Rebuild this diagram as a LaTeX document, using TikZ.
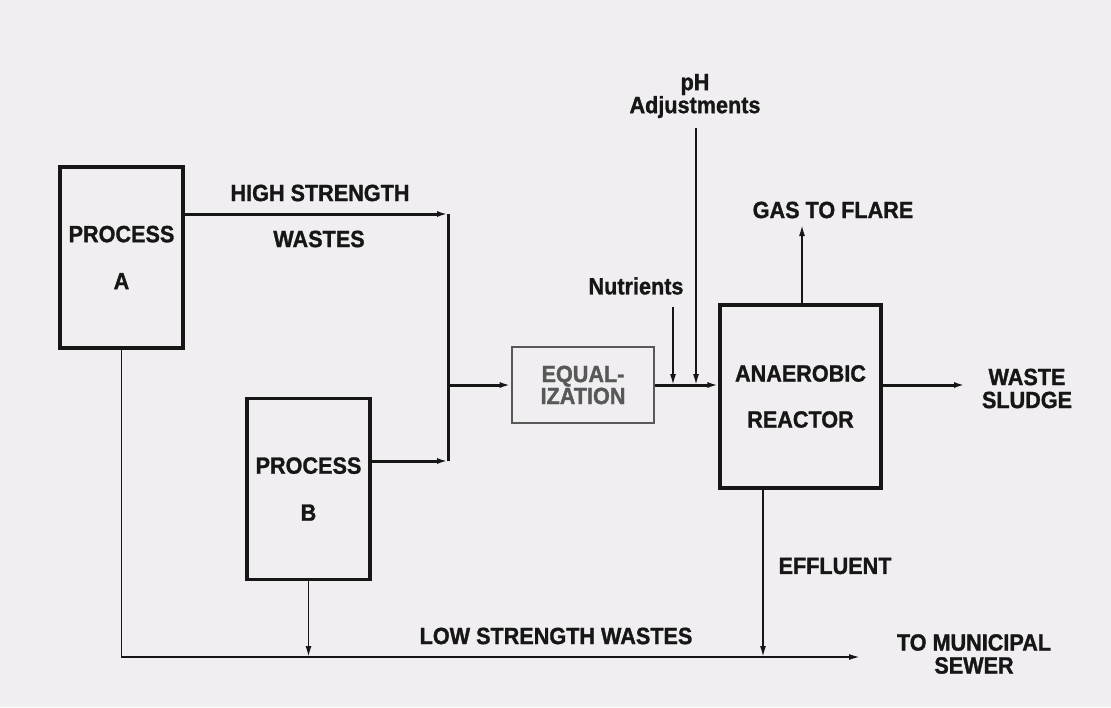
\documentclass[tikz,border=0pt]{standalone}
\usepackage{fontspec}
\setmainfont{Liberation Sans}[BoldFeatures={FakeBold=1.2, FakeStretch=0.92}]
\usetikzlibrary{positioning, arrows.meta, calc}

\definecolor{paper}{RGB}{240,238,241}
\definecolor{ink}{RGB}{22,22,22}
\definecolor{dimink}{RGB}{88,88,88}

\begin{document}
\begin{tikzpicture}[
    x=1pt, y=-1pt,
    >={Latex[length=11pt,width=6pt]},
    on grid,
    unit/.style={draw=ink, line width=3.2pt, align=center, inner sep=0pt,
        font=\fontsize{23.5}{26}\selectfont\bfseries, text=ink},
    tag/.style={align=center, inner sep=0pt, text=ink,
        font=\fontsize{23.5}{23}\selectfont\bfseries},
    main flow/.style={draw=ink, line width=3pt},
    side flow/.style={draw=ink, line width=1.7pt}
]

\fill[paper] (0,0) rectangle (1111,707);
\useasboundingbox (0,0) rectangle (1111,707);

% -------------------------
% PROCESS UNITS
% -------------------------
\node[unit, minimum width=123pt, minimum height=181pt] (ProcA) at (121.5,257.5)
    {PROCESS\\[21pt] A};

\node[unit, minimum width=123pt, minimum height=181pt] (ProcB)
    [below right=231.5pt and 187pt of ProcA]
    {PROCESS\\[21pt] B};

\node[unit, draw=dimink, text=dimink, line width=2.6pt, minimum width=142pt,
      minimum height=76pt, font=\fontsize{23.5}{22}\selectfont\bfseries] (Equal)
    [above right=104pt and 274.5pt of ProcB]
    {EQUAL-\\IZATION};

\node[unit, minimum width=161pt, minimum height=183pt] (Reactor)
    [right=217.5pt of Equal, yshift=-11.5pt]
    {ANAEROBIC\\[20pt] REACTOR};

% -------------------------
% FREE ENDS
% -------------------------
\coordinate (TopJoin) at (448,214);
\coordinate (BotJoin) at (448,461);
\coordinate (PHtop)   at (696,128);
\coordinate (NUtop)   at (673,307);
\coordinate (Flare)   at (802,225);
\coordinate (Sludge)  at (965,385);
\coordinate (Effl)    at (763,657);
\coordinate (Sewer)   at (860,657);

% -------------------------
% LABELS
% -------------------------
\node[tag] (HighTop) at (320,193) {HIGH STRENGTH};
\node[tag] (HighBot) at (319,239) {WASTES};
\node[tag] (PHlbl)   at (695,96)  {pH\\Adjustments};
\node[tag] (NUlbl)   at (636,286) {Nutrients};
\node[tag] (GASlbl)  at (833,210) {GAS TO FLARE};
\node[tag] (WSlbl)   at (1027,388.5) {WASTE\\SLUDGE};
\node[tag] (EFlbl)   at (835,566) {EFFLUENT};
\node[tag] (LOWlbl)  at (556,636) {LOW STRENGTH WASTES};
\node[tag] (SEWlbl)  at (974,654) {TO MUNICIPAL\\SEWER};

% -------------------------
% FLOWS
% -------------------------
% High strength wastes to equalization
\draw[main flow, ->] (ProcA.east |- TopJoin) -- (TopJoin);
\draw[main flow, ->] (ProcB.east |- BotJoin) -- (BotJoin);
\draw[main flow] (TopJoin) -- (BotJoin);
\draw[main flow, ->] (TopJoin |- Equal.west) -- (Equal.west);

% Feed to reactor with additions
\draw[main flow, ->] (Equal.east) -- (Equal.east -| Reactor.west);
\draw[side flow, ->] (PHtop) -- (PHtop |- Equal.east);
\draw[side flow, ->] (NUtop) -- (NUtop |- Equal.east);

% Reactor outlets
\draw[side flow, ->] (Reactor.north -| Flare) -- (Flare);
\draw[main flow, ->] (Reactor.east |- Equal.east) -- (Sludge);
\draw[side flow, ->] (Reactor.south -| Effl) -- (Effl);

% Low strength wastes to sewer
\draw[side flow, ->] (ProcA.south) |- (Sewer);
\draw[side flow, ->] (ProcB.south) -- (ProcB.south |- Sewer);

\end{tikzpicture}
\end{document}
